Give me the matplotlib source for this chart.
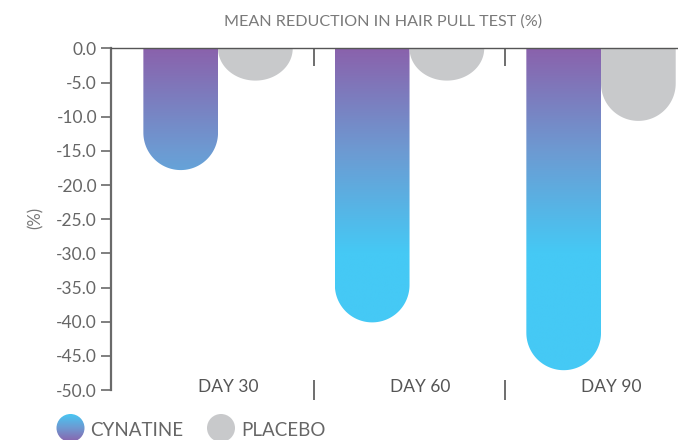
import numpy as np
import matplotlib
matplotlib.use("Agg")
import matplotlib.pyplot as plt
from matplotlib.path import Path
from matplotlib.patches import PathPatch, Circle
from matplotlib.colors import LinearSegmentedColormap

# ---- data ----
categories = ["DAY 30", "DAY 60", "DAY 90"]
cynatine = [-17.8, -40.1, -47.1]
placebo = [-4.7, -4.7, -10.6]
series_names = ["CYNATINE", "PLACEBO"]
yticks = [0.0, -5.0, -10.0, -15.0, -20.0, -25.0, -30.0, -35.0, -40.0, -45.0, -50.0]
title = "MEAN REDUCTION IN HAIR PULL TEST (%)"

FONT = ["Lato", "DejaVu Sans"]
plt.rcParams["font.family"] = FONT

W, H = 678, 440
fig = plt.figure(figsize=(W / 100, H / 100), dpi=100)
ax = fig.add_axes([111 / W, 1 - 390 / H, (W - 111) / W, (390 - 48.5) / H])
ax.set_xlim(-0.559, 2.402)
ax.set_ylim(-50, 0)

purple = "#8a62ac"
cyan = "#45c9f5"
grey_bar = "#c8c9cb"
cmap = LinearSegmentedColormap.from_list("cyn", [purple, "#6d9ad2", cyan])

bw = 0.39
pos = ax.get_position()
px_per_x = pos.width * W / (ax.get_xlim()[1] - ax.get_xlim()[0])
px_per_y = pos.height * H / (ax.get_ylim()[1] - ax.get_ylim()[0])


def rounded_bar_path(x0, x1, v):
    rx = (x1 - x0) / 2
    ry_full = rx * px_per_x / px_per_y
    ry = min(ry_full, abs(v))
    cx = (x0 + x1) / 2
    ystart = v + ry
    t = np.linspace(np.pi, 2 * np.pi, 60)
    xs = cx + rx * np.cos(t)
    ys = ystart + ry * np.sin(t)
    verts = [(x0, 0.0), (x0, ystart)] + list(zip(xs, ys)) + [(x1, ystart), (x1, 0.0), (x0, 0.0)]
    return Path(verts, closed=True)


grad = np.linspace(0, 1, 300).reshape(-1, 1)
grad = np.clip(grad / 0.6, 0, 1)

for i, (c, p) in enumerate(zip(cynatine, placebo)):
    path = rounded_bar_path(i - bw, i, c)
    patch = PathPatch(path, facecolor="none", edgecolor="none")
    ax.add_patch(patch)
    im = ax.imshow(grad, cmap=cmap, vmin=0, vmax=1, aspect="auto",
                   extent=[i - bw, i, -50, 0], origin="upper", zorder=2,
                   interpolation="bilinear")
    im.set_clip_path(patch)
    ppath = rounded_bar_path(i, i + bw, p)
    ax.add_patch(PathPatch(ppath, facecolor=grey_bar, edgecolor="none", zorder=2))

ax.set_xlim(-0.559, 2.402)
ax.set_ylim(-50, 0)

for s in ["right", "bottom"]:
    ax.spines[s].set_visible(False)
ax.spines["top"].set_color("#555555")
ax.spines["top"].set_linewidth(1.0)
ax.spines["left"].set_color("#6a6a6a")
ax.spines["left"].set_linewidth(1.6)

ax.set_yticks(yticks)
ax.set_yticklabels([f"{v:.1f}" for v in yticks])
ax.tick_params(axis="y", direction="out", length=7, width=1.2, color="#6a6a6a",
               labelsize=12.5, labelcolor="#666666", pad=3)

# bottom separator ticks (cross the baseline)
ax.set_xticks([0.5, 1.5])
ax.set_xticklabels([])
ax.tick_params(axis="x", which="major", bottom=True, top=False, direction="inout",
               length=15, width=1.2, color="#555555", labelbottom=False)
# top separator ticks (hang down from the zero line)
sec = ax.secondary_xaxis("top")
sec.set_xticks([0.5, 1.5])
sec.set_xticklabels([])
sec.tick_params(axis="x", direction="in", length=13, width=1.2, color="#555555")
sec.spines["top"].set_visible(False)

for i, cat in enumerate(categories):
    ax.text(i + 0.055, -49.5, cat, ha="center", va="center", fontsize=12.5,
            color="#555555", zorder=3)

ax.set_ylabel("(%)", fontsize=12, color="#777777", va="center")
ax.yaxis.set_label_coords((36 / W - pos.x0) / pos.width, ((H - 218) / H - pos.y0) / pos.height)

fig.text(383 / W, 1 - 21.5 / H, title, ha="center", va="center", fontsize=11.6,
         color="#7a7a7a")

# ---- legend ----
lax = fig.add_axes([0, 0, 1, 1], facecolor="none")
lax.set_xlim(0, W)
lax.set_ylim(H, 0)
lax.axis("off")
circ = Circle((70.5, 428), 14, facecolor="none", edgecolor="none")
lax.add_patch(circ)
lgrad = np.linspace(1, 0, 100).reshape(-1, 1)
lim = lax.imshow(lgrad, cmap=cmap, vmin=0, vmax=1, aspect="auto",
                 extent=[56, 85, 442, 414], interpolation="bilinear")
lim.set_clip_path(circ)
lax.add_patch(Circle((221, 428), 14, facecolor=grey_bar, edgecolor="none"))
lax.set_xlim(0, W)
lax.set_ylim(H, 0)
lax.text(90, 430, series_names[0], ha="left", va="center", fontsize=13.5,
         color="#666666")
lax.text(241, 430, series_names[1], ha="left", va="center", fontsize=13.5,
         color="#666666")

fig.savefig("out.png", dpi=100)
